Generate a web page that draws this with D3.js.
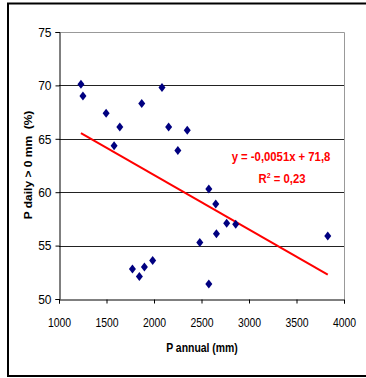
<!DOCTYPE html>
<html><head><meta charset="utf-8">
<script src="https://cdn.jsdelivr.net/npm/d3@7"></script>
<style>html,body{margin:0;padding:0;background:#fff;}svg{display:block;}</style>
</head><body>
<script>
const pAnnual = [1231,1252,1496,1640,1871,2084,1580,2154,2350,2251,2577,2650,2765,2860,2657,2482,3829,1773,1846,1899,1986,2577];
const pDaily  = [70.1,69.0,67.4,66.1,68.3,69.8,64.35,66.1,65.8,63.9,60.3,58.9,57.1,57.0,56.1,55.3,55.9,52.8,52.1,53.0,53.6,51.4];
const trendSlope = -0.0051, trendIntercept = 71.8;
const trendRange = [1231, 3829];
const xTicks = [1000,1500,2000,2500,3000,3500,4000];
const yTicks = [50,55,60,65,70,75];
const eqLabel = "y = -0,0051x + 71,8";
const r2Value = "0,23";
const xTitle = "P annual (mm)";
const yTitle = "P daily > 0 mm  (%)";

const W = 366, H = 378;
const L = 59, R = 344, T = 32, B = 299;
const sx = 0.87;
const svg = d3.select("body").append("svg").attr("width", W).attr("height", H);

svg.append("rect").attr("x", 8).attr("y", 3.5).attr("width", 400).attr("height", 372.5)
  .attr("fill", "none").attr("stroke", "#000").attr("stroke-width", 2);

const x = d3.scaleLinear().domain([1000, 4000]).range([L, R]);
const y = d3.scaleLinear().domain([50, 75]).range([B, T]);

// plot area border (top and right)
svg.append("path").attr("d", `M${L},${T+0.5}H${R+0.5}V${B}`).attr("fill","none").attr("stroke","#999").attr("stroke-width",1);

// gridlines
svg.append("g").selectAll("line").data(yTicks.filter(v => v > 50 && v < 75)).join("line")
  .attr("x1", L).attr("x2", R).attr("y1", d => Math.round(y(d)) + 0.5).attr("y2", d => Math.round(y(d)) + 0.5)
  .attr("stroke", "#222").attr("stroke-width", 1);

// axes
const yAxis = svg.append("g").attr("transform", `translate(${L+0.5},0)`)
  .call(d3.axisLeft(y).tickValues(yTicks).tickSize(4).tickFormat(d3.format("d")));
const xAxis = svg.append("g").attr("transform", `translate(0,${B+0.5})`)
  .call(d3.axisBottom(x).tickValues(xTicks).tickSize(4).tickFormat(d3.format("d")));
[yAxis, xAxis].forEach(g => {
  g.select(".domain").attr("stroke", "#000");
  g.selectAll(".tick line").attr("stroke", "#000");
  g.selectAll(".tick text").attr("font-family", "Liberation Sans, Arial, sans-serif")
    .attr("font-size", 12).attr("fill", "#000");
});
yAxis.selectAll(".tick text").attr("x", -8).attr("dy", "0.35em");
xAxis.selectAll(".tick text").attr("y", 0).attr("dy", 0)
  .attr("transform", `translate(0,27) scale(${sx},1)`);

// trend line
svg.append("line")
  .attr("x1", x(trendRange[0])).attr("y1", y(trendSlope * trendRange[0] + trendIntercept))
  .attr("x2", x(trendRange[1])).attr("y2", y(trendSlope * trendRange[1] + trendIntercept))
  .attr("stroke", "#ff0000").attr("stroke-width", 2);

// points
const diamond = "M0,-4.5L3.5,0L0,4.5L-3.5,0Z";
svg.append("g").selectAll("path").data(pAnnual.map((v, i) => [v, pDaily[i]])).join("path")
  .attr("d", diamond).attr("transform", d => `translate(${x(d[0])},${y(d[1])})`)
  .attr("fill", "#000080");

// equation labels
const fontF = "Liberation Sans, Arial, sans-serif";
svg.append("text").attr("transform", `translate(281,161) scale(${sx},1)`)
  .attr("text-anchor", "middle").attr("font-family", fontF).attr("font-weight", "bold")
  .attr("font-size", 13).attr("fill", "#ff0000").text(eqLabel);
const r2 = svg.append("text").attr("transform", `translate(282,183) scale(${sx},1)`)
  .attr("text-anchor", "middle").attr("font-family", fontF).attr("font-weight", "bold")
  .attr("font-size", 13).attr("fill", "#ff0000");
r2.append("tspan").text("R");
r2.append("tspan").attr("dy", -5).attr("font-size", 8).text("2");
r2.append("tspan").attr("dy", 5).text(" = " + r2Value);

// axis titles
svg.append("text").attr("transform", `translate(202,352) scale(${sx},1)`)
  .attr("text-anchor", "middle").attr("font-family", fontF).attr("font-weight", "bold")
  .attr("font-size", 12).attr("fill", "#000").text(xTitle);
svg.append("text").attr("transform", `translate(32,165) rotate(-90) scale(1,${sx})`)
  .attr("text-anchor", "middle").attr("font-family", fontF).attr("font-weight", "bold")
  .attr("font-size", 12).attr("fill", "#000").attr("xml:space","preserve").text(yTitle);
</script>
</body></html>
